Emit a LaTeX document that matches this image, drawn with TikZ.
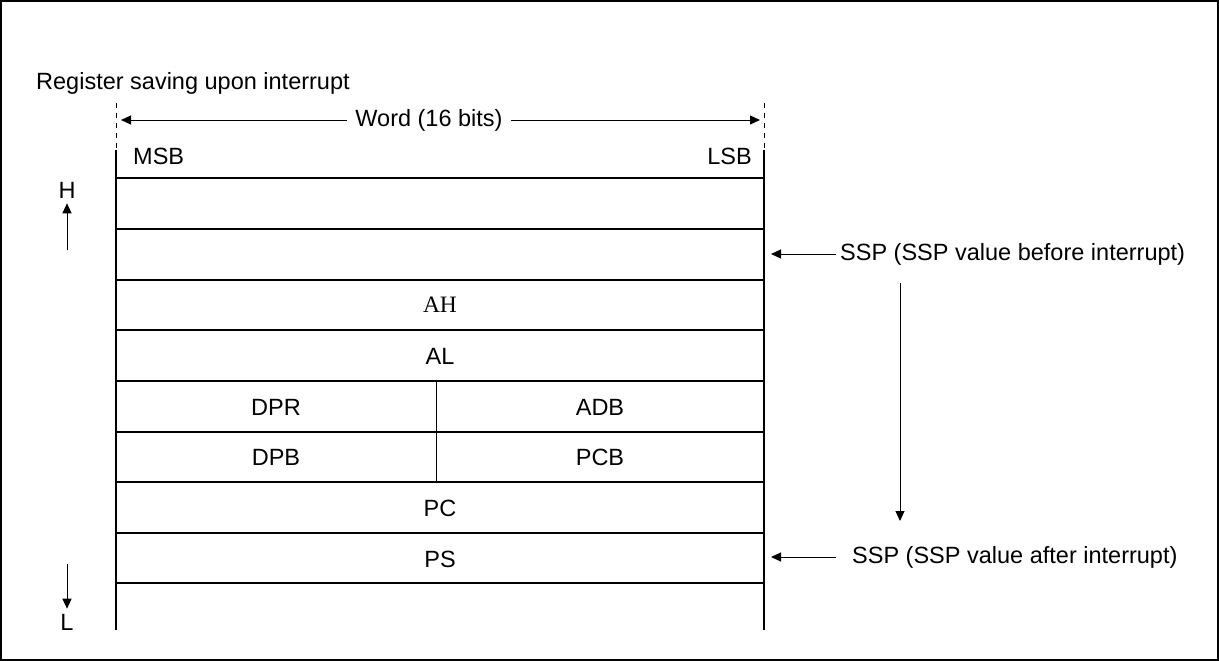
\documentclass[tikz,border=0pt]{standalone}
\usepackage{fontspec}
\setmainfont{Liberation Sans}
\newfontfamily\seriffont{Liberation Serif}
\usetikzlibrary{arrows.meta}
\begin{document}
\begin{tikzpicture}[x=1pt,y=-1pt,
  lbl/.style={font=\fontsize{23.5}{28}\selectfont, inner sep=0pt},
  rule/.style={line width=2pt},
  thin rule/.style={line width=1pt},
  arr/.style={line width=1pt, -{Triangle[length=10pt,width=9pt]}},
  tick/.style={line width=1pt, dash pattern=on 5pt off 5pt},
]
\useasboundingbox (0,0) rectangle (1219,661);
\draw[line width=1.5pt] (1,1) rectangle (1218,660);

\node[lbl, anchor=west] (title) at (36,83) {Register saving upon interrupt};

% dashed ticks
\coordinate (tlL) at (116,103);
\coordinate (tlR) at (764,103);
\coordinate (tbL) at (116,150);
\coordinate (tbR) at (764,150);
\draw[tick] (tlL) -- (tbL);
\draw[tick] (tlR) -- (tbR);

% word arrow
\node[lbl] (word) at (429,120) {Word (16 bits)};
\coordinate (wL) at (121,120);
\coordinate (wR) at (760,120);
\draw[arr] ([xshift=-8pt]word.west) -- (wL);
\draw[arr] ([xshift=8pt]word.east) -- (wR);

\node[lbl, anchor=west] (msb) at (133,156) {MSB};
\node[lbl, anchor=east] (lsb) at (752,156) {LSB};

% table
\coordinate (topL) at (116,150);
\coordinate (topR) at (764,150);
\coordinate (botL) at (116,630);
\coordinate (botR) at (764,630);
\draw[rule] (topL) -- (botL);
\draw[rule] (topR) -- (botR);
\foreach \y in {178,229,280,330,381,432,482,533,583}
  \draw[rule] (116,\y) -- (764,\y);
\coordinate (divT) at (436,381);
\coordinate (divB) at (436,482);
\draw[thin rule] (divT) -- (divB);

\node[lbl, font=\seriffont\fontsize{23.5}{28}\selectfont] (ah) at (440,305) {AH};
\node[lbl] (al) at (440,356) {AL};
\node[lbl] (dpr) at (276,407) {DPR};
\node[lbl] (adb) at (600,407) {ADB};
\node[lbl] (dpb) at (276,457) {DPB};
\node[lbl] (pcb) at (600,457) {PCB};
\node[lbl] (pc) at (440,508) {PC};
\node[lbl] (ps) at (440,559) {PS};

% H / L
\node[lbl] (H) at (67,190) {H};
\coordinate (hA) at (67,250);
\draw[arr] (hA) -- ([yshift=-5pt]H.south);
\node[lbl] (L) at (67,622) {L};
\coordinate (lA) at (67,564);
\draw[arr] (lA) -- ([yshift=5pt]L.north);

% SSP labels
\node[lbl, anchor=west] (sspb) at (840,254) {SSP (SSP value before interrupt)};
\coordinate (sbT) at (771,254);
\draw[arr] ([xshift=-4pt]sspb.west) -- (sbT);
\node[lbl, anchor=west] (sspa) at (852,557) {SSP (SSP value after interrupt)};
\coordinate (saT) at (771,557);
\draw[arr] (836,557) -- (saT);
\coordinate (vT) at (900,283);
\coordinate (vB) at (900,521);
\draw[arr] (vT) -- (vB);
\end{tikzpicture}
\end{document}
